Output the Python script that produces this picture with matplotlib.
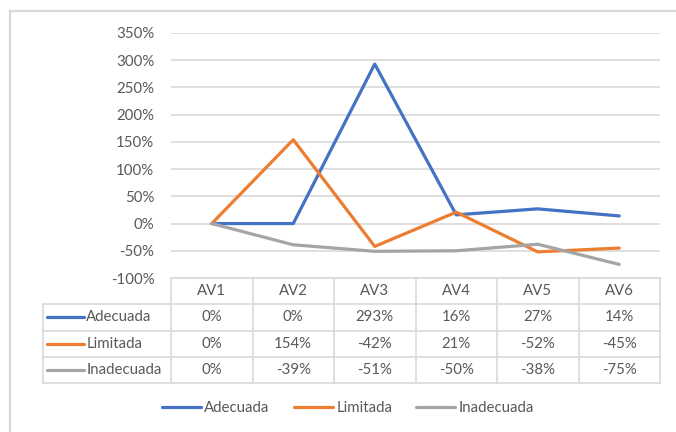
import numpy as np
from matplotlib import pyplot as plt
from matplotlib.lines import Line2D

plt.rcParams['font.family'] = ['Lato', 'DejaVu Sans']

categories = ['AV1', 'AV2', 'AV3', 'AV4', 'AV5', 'AV6']
series_names = ['Adecuada', 'Limitada', 'Inadecuada']
adecuada = [0.00, 0.00, 2.93, 0.16, 0.27, 0.14]
limitada = [0.00, 1.54, -0.42, 0.21, -0.52, -0.45]
inadecuada = [0.00, -0.39, -0.51, -0.50, -0.38, -0.75]
yticks = [-1.0, -0.5, 0.0, 0.5, 1.0, 1.5, 2.0, 2.5, 3.0, 3.5]

colors = ['#4472C4', '#ED7D31', '#A5A5A5']
txt = '#595959'
grid = '#d9d9d9'
fs = 10.8
W, H = 676, 432

def fx(px):
    return px / W

def fy(py):
    return 1 - py / H

fig = plt.figure(figsize=(W / 100, H / 100), dpi=100)

# outer chart border (top and left visible)
fig.add_artist(Line2D([fx(10), fx(10)], [fy(11), 0], color=grid, lw=1.6))
fig.add_artist(Line2D([fx(10), 1], [fy(11), fy(11)], color=grid, lw=1.6))

x0, x1 = 171, 660
ytop, ybot = 33, 278
ax = fig.add_axes([fx(x0), fy(ybot), fx(x1 - x0), (ybot - ytop) / H])
xs = np.arange(len(categories))
all_series = [adecuada, limitada, inadecuada]
for vals, c in zip(all_series, colors):
    ax.plot(xs, vals, color=c, lw=2.3, solid_capstyle='round', solid_joinstyle='round', zorder=3)
ax.set_xlim(-0.5, len(categories) - 0.5)
ax.set_ylim(-1.0, 3.5)
ax.set_yticks(yticks)
ax.set_yticklabels([f'{int(round(v * 100))}%' for v in yticks], color=txt, fontsize=fs)
ax.set_xticks([])
ax.tick_params(axis='y', length=0, pad=12)
ax.grid(axis='y', color=grid, lw=1.2)
ax.set_axisbelow(True)
for s in ax.spines.values():
    s.set_visible(False)

# data table
tb_bot = 383
tax = fig.add_axes([fx(x0), fy(tb_bot), fx(x1 - x0), (tb_bot - ybot) / H])
tax.set_xlim(-0.5, len(categories) - 0.5)
tax.set_ylim(4, 0)
tax.axis('off')
col_w = (x1 - x0) / len(categories)
left = -0.5 - (x0 - 43) / col_w
lk = dict(color=grid, lw=1.2, clip_on=False)
tax.plot([-0.5, 5.5], [0, 0], **lk)
for r in [1, 2, 3, 4]:
    tax.plot([left, 5.5], [r, r], **lk)
tax.plot([left, left], [1, 4], **lk)
for c in range(len(categories) + 1):
    tax.plot([c - 0.5, c - 0.5], [0, 4], **lk)
for i, cat in enumerate(categories):
    tax.text(i, 0.5, cat, ha='center', va='center', color=txt, fontsize=fs)
for r, (name, vals, c) in enumerate(zip(series_names, all_series, colors)):
    yy = r + 1.5
    tax.plot([left + 0.05, left + 0.5], [yy, yy], color=c, lw=2.3, solid_capstyle='round', clip_on=False)
    tax.text(left + 0.53, yy, name, ha='left', va='center', color=txt, fontsize=fs)
    for i, v in enumerate(vals):
        tax.text(i, yy, f'{int(round(v * 100))}%', ha='center', va='center', color=txt, fontsize=fs)

handles = [Line2D([], [], color=c, lw=2.3, solid_capstyle='round') for c in colors]
fig.legend(handles, series_names, loc='center', bbox_to_anchor=(fx(348), fy(408)), ncol=3,
           frameon=False, fontsize=fs, labelcolor=txt, handlelength=2.6,
           handletextpad=0.25, columnspacing=1.6)

fig.savefig('out.png', dpi=100)
